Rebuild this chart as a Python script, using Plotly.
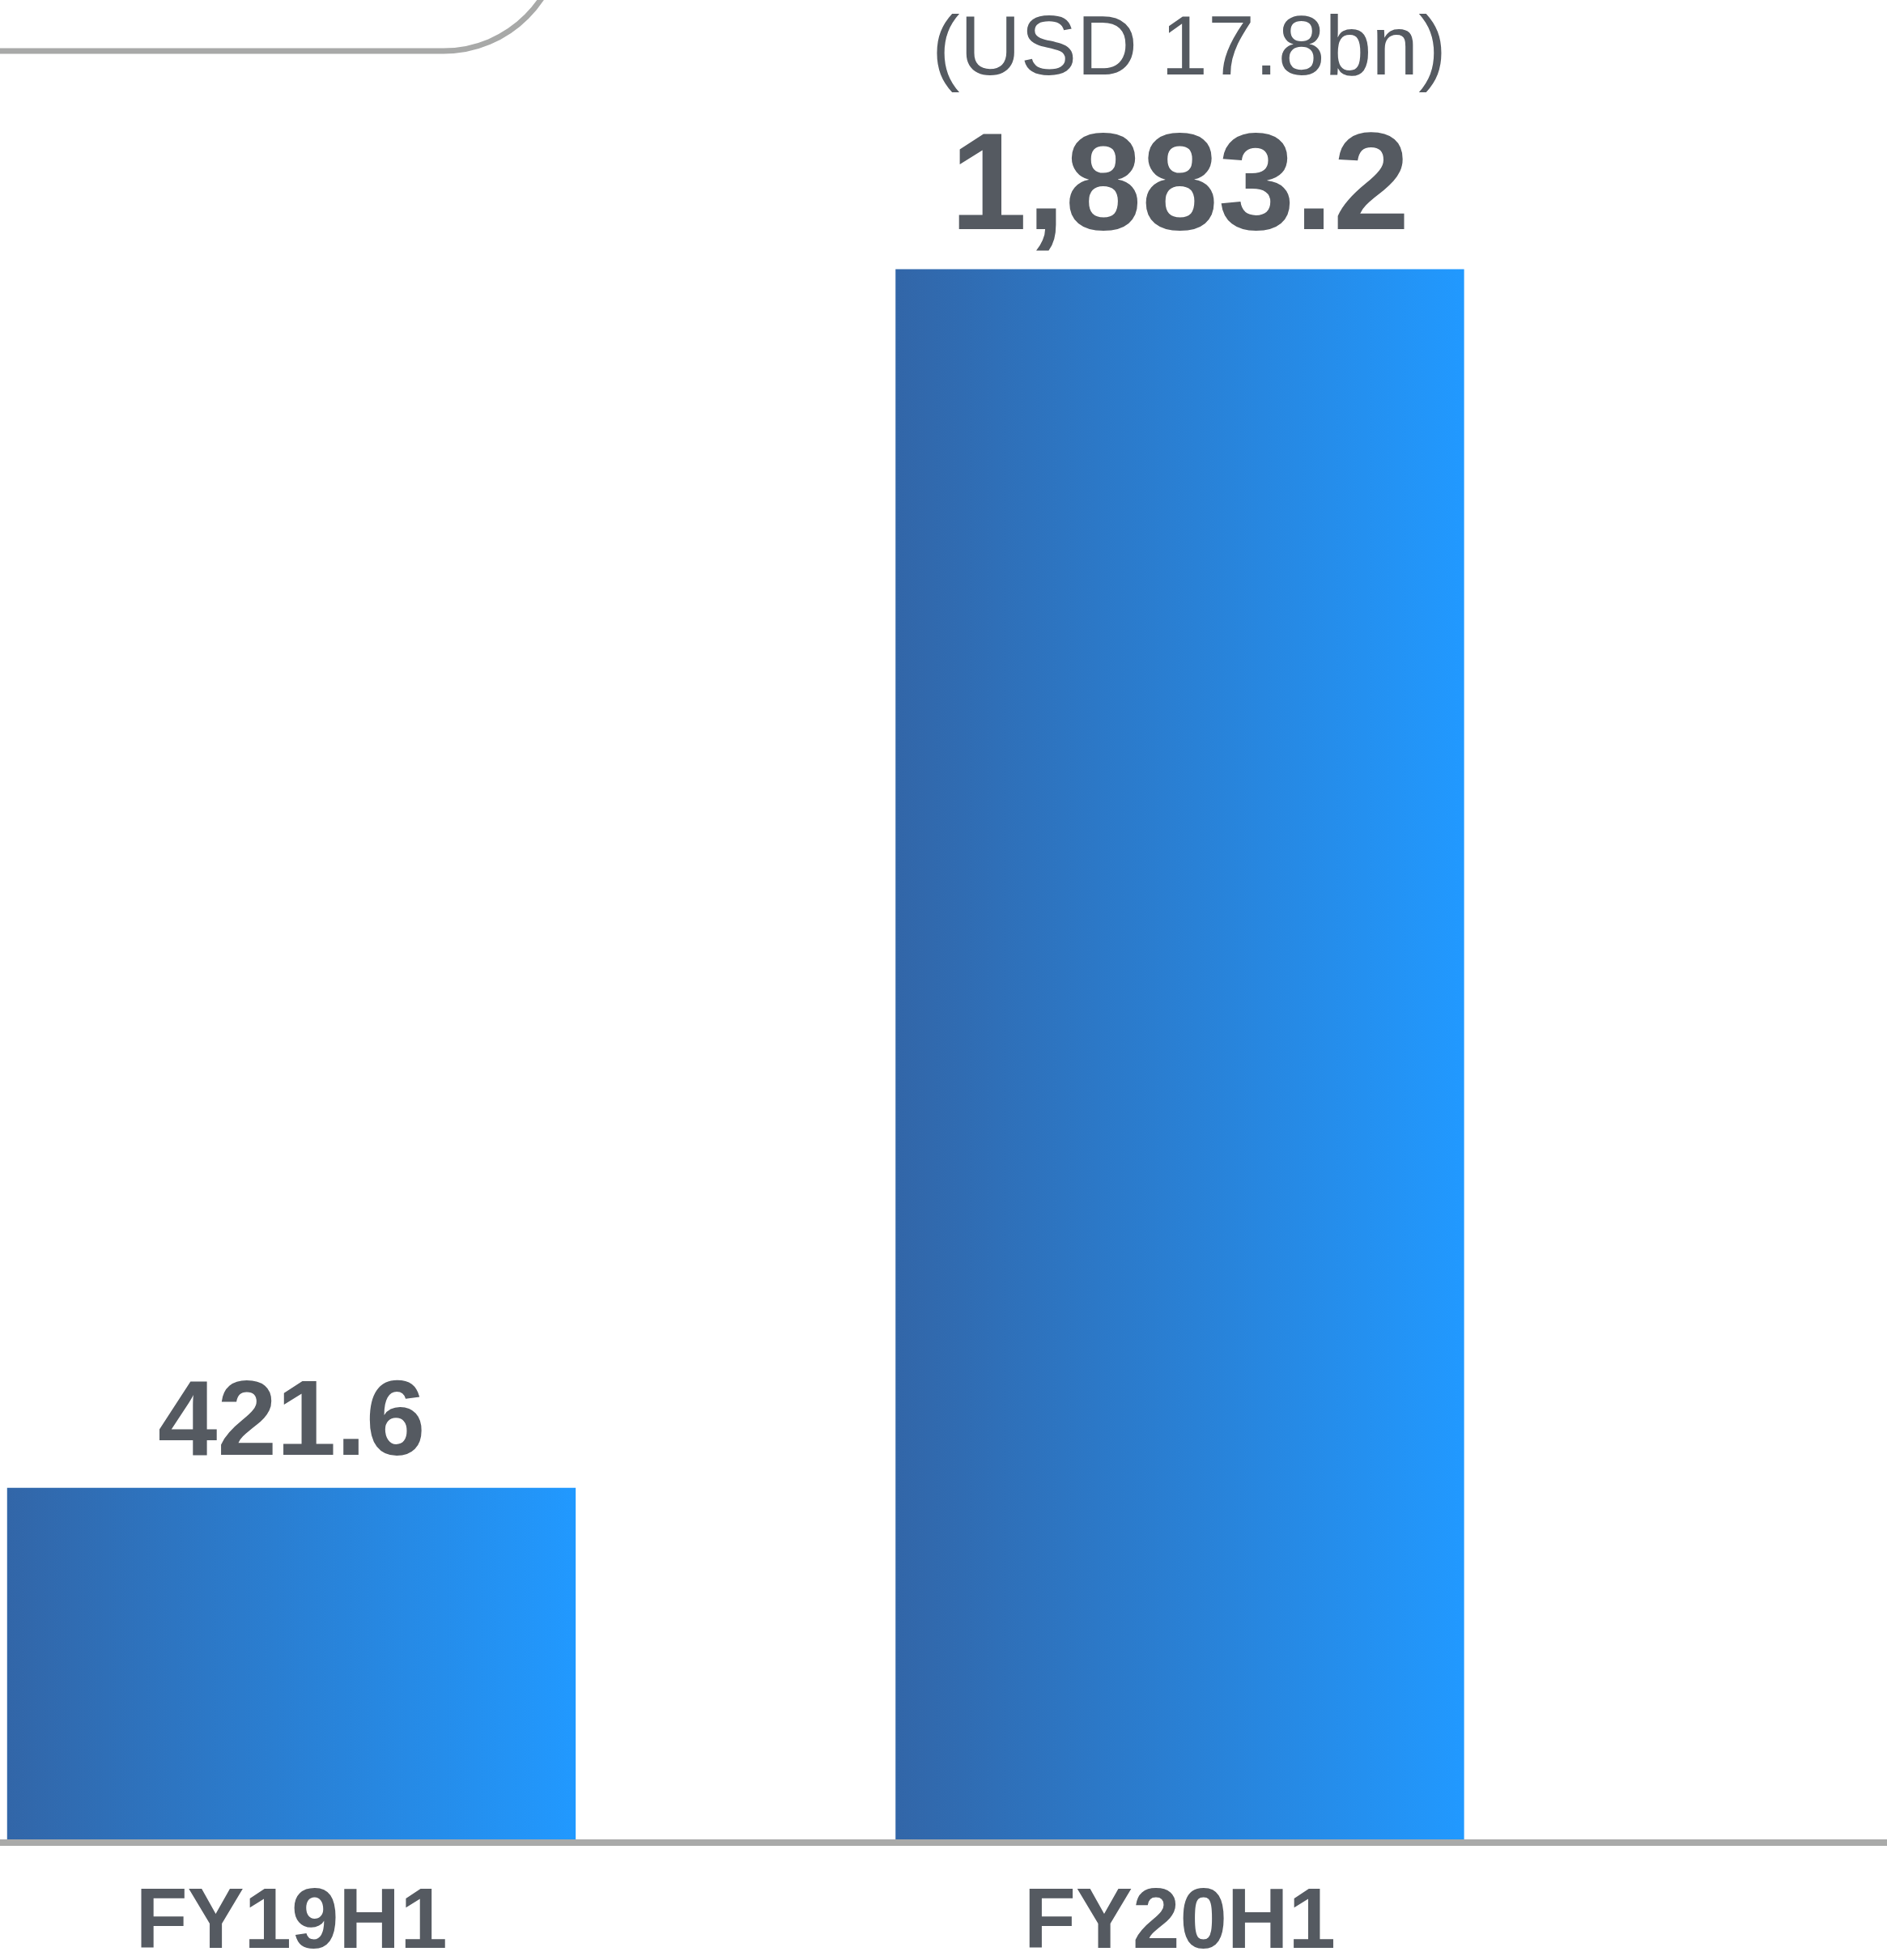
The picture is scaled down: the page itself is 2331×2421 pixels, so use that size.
import plotly.graph_objects as go

# Revenue by half-year period
categories = ["FY19H1", "FY20H1"]
values = [421.6, 1883.2]
usd_notes = ["", "(USD 17.8bn)"]

# Styling
BAR_WIDTH = 0.64
TEXT = "#555a61"
AXIS_GREY = "#a9aaa9"
BOX_GREY = "#a8a9a8"
GRADIENT = [[0, "#3266a8"], [1, "#2199ff"]]
FONT = "Liberation Sans, Arial, sans-serif"
LABEL_SIZES = [132, 170]

W, H = 2331, 2421
MB = 149
PLOT_H = H - MB

fig = go.Figure()

# Bars drawn as filled polygons so each one can carry a horizontal gradient
for i, v in enumerate(values):
    x0, x1 = i - BAR_WIDTH / 2, i + BAR_WIDTH / 2
    fig.add_trace(go.Scatter(
        x=[x0, x1, x1, x0, x0],
        y=[0, 0, v, v, 0],
        mode="lines",
        fill="toself",
        line=dict(width=0),
        fillgradient=dict(type="horizontal", colorscale=GRADIENT),
        hoverinfo="skip",
        showlegend=False,
    ))

# Value labels above each bar
for i, v in enumerate(values):
    fig.add_annotation(
        x=i, y=v, text=f"{v:,.1f}", showarrow=False,
        yanchor="bottom", yshift=11,
        font=dict(family=FONT, size=LABEL_SIZES[i], color=TEXT, weight="bold"),
    )
    if usd_notes[i]:
        fig.add_annotation(
            x=i, y=v, text=usd_notes[i], showarrow=False,
            yanchor="bottom", yshift=216, xshift=12,
            font=dict(family=FONT, size=104, color=TEXT),
        )


def px_to_paper(px, py):
    return px / W, (PLOT_H - py) / PLOT_H


# Rounded corner of the callout frame in the top-left
r = 145
k = 0.5523 * r
pts = [(0, 63), (548, 63), (548 + k, 63), (693, 63 - r + k), (693, 63 - r), (693, -400)]
p = [px_to_paper(*q) for q in pts]
path = (f"M {p[0][0]},{p[0][1]} L {p[1][0]},{p[1][1]} "
        f"C {p[2][0]},{p[2][1]} {p[3][0]},{p[3][1]} {p[4][0]},{p[4][1]} "
        f"L {p[5][0]},{p[5][1]}")
fig.add_shape(type="path", path=path, xref="paper", yref="paper",
              line=dict(color=BOX_GREY, width=7))

fig.update_layout(
    width=W, height=H,
    margin=dict(l=0, r=0, t=0, b=MB),
    paper_bgcolor="white", plot_bgcolor="white",
    showlegend=False,
    xaxis=dict(
        range=[-0.328, 1.796],
        tickvals=list(range(len(categories))),
        ticktext=categories,
        tickfont=dict(family=FONT, size=105, color=TEXT, weight="bold"),
        showline=True, linecolor=AXIS_GREY, linewidth=8,
        showgrid=False, zeroline=False, ticks="",
        automargin=False,
    ),
    yaxis=dict(range=[0, 2206], visible=False, showgrid=False,
               zeroline=False, automargin=False),
)

fig.write_html("out.html")
